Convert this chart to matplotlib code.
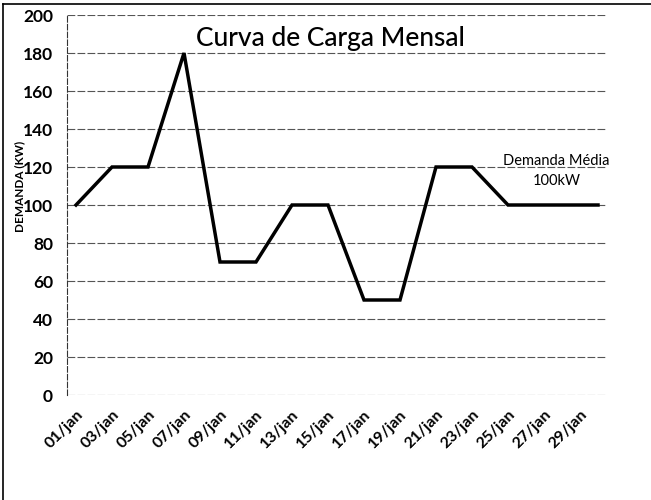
import matplotlib
matplotlib.use("Agg")
import matplotlib.pyplot as plt
from matplotlib.lines import Line2D

plt.rcParams['font.family'] = ['Lato', 'DejaVu Sans']

# -------------------------
# DATA
# -------------------------
days = [f"{d:02d}/jan" for d in range(1, 31)]
demanda = [100, 110, 120, 120, 120, 150, 180, 125, 70, 70,
           70, 85, 100, 100, 100, 75, 50, 50, 50, 85,
           120, 120, 120, 110, 100, 100, 100, 100, 100, 100]
y_ticks = [0, 20, 40, 60, 80, 100, 120, 140, 160, 180, 200]

titulo = "Curva de Carga Mensal"
nota = "Demanda Média\n100kW"
ylabel = "DEMANDA (KW)"

# -------------------------
# FIGURE
# -------------------------
fig = plt.figure(figsize=(6.51, 5.0), dpi=100)
ax = fig.add_axes([67 / 651, 1 - 395 / 500, 540 / 651, 380 / 500])

x = list(range(len(days)))
ax.plot(x, demanda, color='black', linewidth=2.5, solid_joinstyle='miter')

ax.set_xlim(-0.5, len(days) - 0.5)
ax.set_ylim(0, 200)

ax.set_yticks(y_ticks)
ax.set_yticklabels([str(v) for v in y_ticks], fontsize=12.5, fontweight='bold')
ax.set_xticks(x[::2])
ax.set_xticklabels(days[::2], rotation=45, ha='right', fontsize=11.5,
                   fontweight='bold', rotation_mode='anchor')
ax.tick_params(axis='both', length=0)
ax.tick_params(axis='y', pad=10)
ax.tick_params(axis='x', pad=9)

# dashed grid like the scanned original
ax.grid(axis='y', color='#555555', linestyle=(0, (7, 2)), linewidth=0.8)
ax.set_axisbelow(True)

for side in ['top', 'right', 'bottom']:
    ax.spines[side].set_visible(False)
ax.spines['left'].set_color('#333333')
ax.spines['left'].set_linestyle((0, (5, 2)))
ax.spines['left'].set_linewidth(0.8)

ax.text(0.487, 0.937, titulo, transform=ax.transAxes, ha='center', va='center',
        fontsize=19, fontweight='medium')
ax.text(26.7, 118, nota, ha='center', va='center', fontsize=10.5,
        linespacing=1.55)

fig.text(20 / 651, 1 - 186 / 500, ylabel, rotation=90, ha='center', va='center',
         fontsize=8.5, fontweight='bold')

# page border (left and top)
fig.add_artist(Line2D([3 / 651, 3 / 651], [0, 1 - 4 / 500], color='black',
                      linewidth=1.2, transform=fig.transFigure))
fig.add_artist(Line2D([3 / 651, 1], [1 - 4 / 500, 1 - 4 / 500], color='black',
                      linewidth=1.2, transform=fig.transFigure))

fig.savefig("out.png", dpi=100)
